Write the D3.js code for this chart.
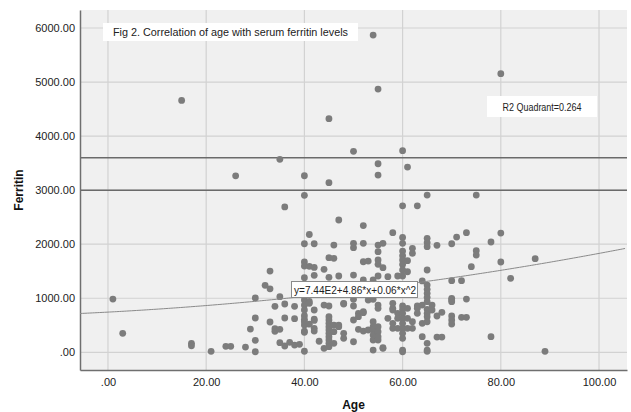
<!DOCTYPE html>
<html>
<head>
<meta charset="utf-8">
<script src="https://cdn.jsdelivr.net/npm/d3@7"></script>
<style>
  body { margin: 0; background: #fff; }
  text { font-family: "Liberation Sans", Arial, sans-serif; }
</style>
</head>
<body>
<svg id="chart" width="631" height="412"></svg>
<script>
// patient age / serum ferritin pairs
const ages = [
  1, 3, 15, 17, 17, 21, 24, 25, 26, 28, 29, 30, 30, 30, 30, 32, 33, 33, 33, 34, 34, 34,
  35, 35, 35, 35, 36, 36, 36, 36, 37, 38, 38, 38, 39,
  40, 40, 40, 40, 40, 40, 40, 40, 40, 40, 40, 40, 40, 40, 40, 40,
  41, 41, 41, 41, 41, 42, 42, 42, 42, 42, 42, 42, 42, 43, 44, 44, 44,
  45, 45, 45, 45, 45, 45, 45, 45, 45, 45, 45, 45, 45, 45, 45,
  46, 46, 46, 46, 46, 47, 47, 47, 47, 48, 48, 48, 48,
  50, 50, 50, 50, 50, 50, 50, 50, 51, 51, 51,
  52, 52, 52, 52, 52, 52, 52, 53, 53, 53,
  54, 54, 54, 54, 54, 54, 54, 54, 54,
  55, 55, 55, 55, 55, 55, 55, 55, 55, 55, 55, 55, 55, 55, 56, 56, 56, 56, 57, 57,
  58, 58, 58, 58, 58, 58, 59, 59, 59, 59,
  60, 60, 60, 60, 60, 60, 60, 60, 60, 60, 60, 60, 60, 60, 60, 60, 60, 60, 60, 60,
  61, 61, 61, 61, 61, 61, 62, 62, 62, 62, 63, 63, 63, 63, 64, 64, 64, 64,
  65, 65, 65, 65, 65, 65, 65, 65, 65, 65, 65, 65, 65, 65, 65, 65, 65,
  66, 66, 67, 67, 67, 68, 68,
  70, 70, 70, 70, 70, 70, 70, 70, 71, 72, 72, 73, 73, 73, 74, 75, 75, 75,
  78, 78, 80, 80, 80, 82, 87, 89
];
const ferritin = [
  986, 351, 4660, 166, 122, 18, 111, 111, 3265, 98, 431, 1005, 635, 222, 11, 1239, 1504, 1175, 561, 851, 437, 389,
  425, 1030, 178, 3571, 2690, 894, 635, 117, 185, 851, 622, 135, 148,
  3267, 2905, 2009, 1671, 1595, 1380, 968, 875, 783, 678, 610, 566, 505, 394, 370, 20,
  2180, 1591, 940, 906, 520, 2009, 1570, 1425, 783, 616, 590, 444, 394, 205, 1536, 875, 74,
  4322, 3138, 1751, 1387, 857, 659, 598, 536, 474, 413, 351, 289, 228, 166, 104,
  1985, 1739, 505, 382, 166, 2448, 1412, 505, 474, 906, 894, 351, 259,
  3719, 2017, 1936, 1430, 980, 857, 598, 196, 721, 659, 425,
  2345, 2017, 1676, 1338, 751, 733, 394, 1689, 968, 413,
  5870, 1338, 980, 566, 474, 413, 320, 228, 42,
  4871, 3489, 3280, 1985, 1862, 1708, 1628, 1412, 875, 814, 474, 382, 289, 228, 2017, 1566, 85, 74, 1399, 629,
  2213, 906, 814, 783, 536, 444, 1412, 721, 629, 444,
  3730, 2710, 2125, 2017, 1874, 1788, 1708, 1625, 1523, 1412, 857, 795, 721, 629, 536, 444, 351, 259, 42, 11,
  3428, 1695, 1491, 814, 629, 444, 1924, 1832, 566, 444, 2710, 857, 814, 721, 1320, 875, 536, 289,
  2910, 2109, 2030, 1954, 1523, 1245, 1165, 1091, 1017, 937, 795, 721, 659, 566, 166, 42, 18,
  875, 783, 1980, 672, 283, 740, 283,
  2009, 1326, 999, 968, 937, 672, 598, 524, 2133, 1326, 647, 2213, 986, 647, 1584, 2910, 1881, 1800,
  2041, 289, 5155, 2207, 1671, 1369, 1732, 18
];

// quadratic fit shown on the chart: y = 7.44E2 + 4.86*x + 0.06*x^2
const fitCoef = [744, 4.86, 0.06];
const fitLabel = "y=7.44E2+4.86*x+0.06*x^2";
const refLines = [3000, 3600];

const xTicks = [0, 20, 40, 60, 80, 100];
const yTicks = [0, 1000, 2000, 3000, 4000, 5000, 6000];
const fmt = v => v === 0 ? ".00" : v.toFixed(2);

const svg = d3.select("#chart");
const plotL = 80, plotR = 627, plotT = 10, plotB = 370;

const x = d3.scaleLinear().domain([-5.7, 105.7]).range([plotL, plotR]);
const y = d3.scaleLinear().domain([-327, 6333]).range([plotB, plotT]);

// plot background
svg.append("rect")
  .attr("x", plotL).attr("y", plotT)
  .attr("width", plotR - plotL).attr("height", plotB - plotT)
  .attr("fill", "#f0f0f0");

// gridlines
svg.append("g").selectAll("line").data(xTicks).enter().append("line")
  .attr("x1", d => x(d)).attr("x2", d => x(d))
  .attr("y1", plotT).attr("y2", plotB)
  .attr("stroke", "#d2d2d2").attr("stroke-width", 1.2);
svg.append("g").selectAll("line").data(yTicks).enter().append("line")
  .attr("x1", plotL).attr("x2", plotR)
  .attr("y1", d => y(d)).attr("y2", d => y(d))
  .attr("stroke", "#d2d2d2").attr("stroke-width", 1.2);

// reference lines
svg.append("g").selectAll("line").data(refLines).enter().append("line")
  .attr("x1", plotL).attr("x2", plotR)
  .attr("y1", d => y(d)).attr("y2", d => y(d))
  .attr("stroke", "#6a6a6a").attr("stroke-width", 1.5);

// axes (labels only, tick marks hidden)
const xAxis = d3.axisBottom(x).tickValues(xTicks).tickFormat(fmt).tickSize(0).tickPadding(8);
const yAxis = d3.axisLeft(y).tickValues(yTicks).tickFormat(fmt).tickSize(0).tickPadding(5);

const gx = svg.append("g").attr("transform", `translate(0,${plotB})`).call(xAxis);
const gy = svg.append("g").attr("transform", `translate(${plotL},0)`).call(yAxis);
[gx, gy].forEach(g => {
  g.select(".domain").attr("stroke", "#6f6f6f").attr("stroke-width", 1.5);
  g.selectAll("text").attr("font-size", 11).attr("fill", "#222")
    .attr("font-family", "Liberation Sans, Arial, sans-serif");
});

// points
svg.append("g").selectAll("circle").data(ages).enter().append("circle")
  .attr("cx", d => x(d))
  .attr("cy", (d, i) => y(ferritin[i]))
  .attr("r", 3.4)
  .attr("fill", "#7c7c7c");

// fitted curve
const xs = d3.range(x.domain()[0], x.domain()[1] + 0.01, 0.5);
const line = d3.line()
  .x(d => x(d))
  .y(d => y(fitCoef[0] + fitCoef[1] * d + fitCoef[2] * d * d));
svg.append("path").datum(xs)
  .attr("d", line)
  .attr("fill", "none")
  .attr("stroke", "#8a8a8a")
  .attr("stroke-width", 1);

// title box
svg.append("rect").attr("x", 103).attr("y", 23).attr("width", 255).attr("height", 18).attr("fill", "#fff");
svg.append("text").attr("x", 113).attr("y", 36)
  .attr("font-size", 11).attr("fill", "#222")
  .attr("textLength", 235).attr("lengthAdjust", "spacingAndGlyphs")
  .text("Fig 2. Correlation of age with serum ferritin levels");

// R2 box
svg.append("rect").attr("x", 487).attr("y", 96).attr("width", 110).attr("height", 21).attr("fill", "#fff");
svg.append("text").attr("x", 542).attr("y", 110.5)
  .attr("font-size", 10).attr("fill", "#222").attr("text-anchor", "middle")
  .attr("textLength", 79).attr("lengthAdjust", "spacingAndGlyphs")
  .text("R2 Quadrant=0.264");

// equation box
svg.append("rect").attr("x", 291.5).attr("y", 281.5).attr("width", 126).attr("height", 16)
  .attr("fill", "#fff").attr("stroke", "#8a8a8a").attr("stroke-width", 1);
svg.append("text").attr("x", 294).attr("y", 293.5)
  .attr("font-size", 11).attr("fill", "#222")
  .attr("textLength", 122).attr("lengthAdjust", "spacingAndGlyphs")
  .text(fitLabel);

// axis titles
svg.append("text").attr("x", (plotL + plotR) / 2).attr("y", 409)
  .attr("text-anchor", "middle").attr("font-size", 12).attr("font-weight", "bold").attr("fill", "#111")
  .text("Age");
svg.append("text")
  .attr("transform", `translate(23,${(plotT + plotB) / 2}) rotate(-90)`)
  .attr("text-anchor", "middle").attr("font-size", 12).attr("font-weight", "bold").attr("fill", "#111")
  .text("Ferritin");
</script>
</body>
</html>
